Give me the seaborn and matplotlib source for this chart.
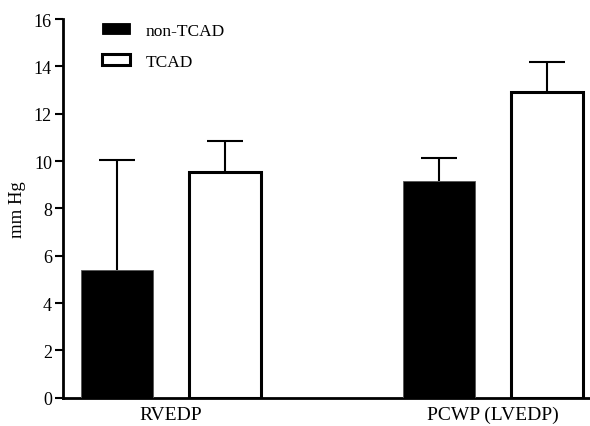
import matplotlib

matplotlib.use("Agg")
import matplotlib.pyplot as plt
import pandas as pd
import seaborn as sns
from matplotlib.patches import Patch

# values
categories = ["RVEDP", "PCWP (LVEDP)"]
groups = ["non-TCAD", "TCAD"]
non_tcad_mean = [5.4, 9.15]
non_tcad_err = [4.65, 0.97]
tcad_mean = [9.54, 12.9]
tcad_err = [1.31, 1.3]
y_ticks = [0, 2, 4, 6, 8, 10, 12, 14, 16]

df = pd.DataFrame(
    {
        "measure": categories * 2,
        "group": [groups[0]] * 2 + [groups[1]] * 2,
        "value": non_tcad_mean + tcad_mean,
    }
)
errs = {groups[0]: non_tcad_err, groups[1]: tcad_err}

sns.set_style(
    "ticks",
    {"axes.edgecolor": "black", "text.color": "black", "xtick.color": "black",
     "ytick.color": "black", "axes.labelcolor": "black"},
)
plt.rcParams["font.family"] = ["Liberation Serif", "DejaVu Serif"]

fig = plt.figure(figsize=(5.9, 4.27), dpi=100)
ax = fig.add_axes([0.107, 0.066, 0.893, 0.887])

sns.barplot(
    data=df,
    x="measure",
    y="value",
    hue="group",
    order=categories,
    hue_order=groups,
    palette={"non-TCAD": "black", "TCAD": "white"},
    errorbar=None,
    width=0.67,
    gap=1 / 3,
    legend=False,
    ax=ax,
    zorder=3,
)

# one-sided (upper) error bars, drawn behind the bars
for cont, g in zip(ax.containers, groups):
    for bar, e in zip(cont, errs[g]):
        if g == "TCAD":
            bar.set_edgecolor("black")
            bar.set_linewidth(2.2)
        else:
            bar.set_edgecolor("#555555")
            bar.set_linewidth(0.6)
        xc = bar.get_x() + bar.get_width() / 2
        top = bar.get_height() + e
        half = bar.get_width() / 4
        ax.vlines(xc, bar.get_height(), top, color="black", lw=1.5, zorder=2)
        ax.hlines(top, xc - half, xc + half, color="black", lw=1.5, zorder=2)

ax.set_xlim(-0.334, 1.3)
ax.set_ylim(0, 16)
ax.set_yticks(y_ticks)
ax.set_xlabel("")
ax.set_ylabel("mm Hg", fontsize=13.5, labelpad=6)
ax.tick_params(axis="y", labelsize=13, length=6, width=1.5, direction="out", pad=2)
ax.tick_params(axis="x", labelsize=14, length=0, pad=6)
sns.despine(ax=ax)
ax.spines["left"].set_linewidth(2)
ax.spines["bottom"].set_linewidth(2)

handles = [
    Patch(facecolor="black", edgecolor="black", linewidth=0.6),
    Patch(facecolor="white", edgecolor="black", linewidth=2.2),
]
ax.legend(
    handles,
    groups,
    loc="upper left",
    bbox_to_anchor=(0.074, 0.99),
    frameon=False,
    fontsize=12.5,
    handlelength=1.6,
    handleheight=0.6,
    handletextpad=0.9,
    labelspacing=0.85,
    borderaxespad=0,
    borderpad=0,
)

fig.savefig("out.png", dpi=100)
